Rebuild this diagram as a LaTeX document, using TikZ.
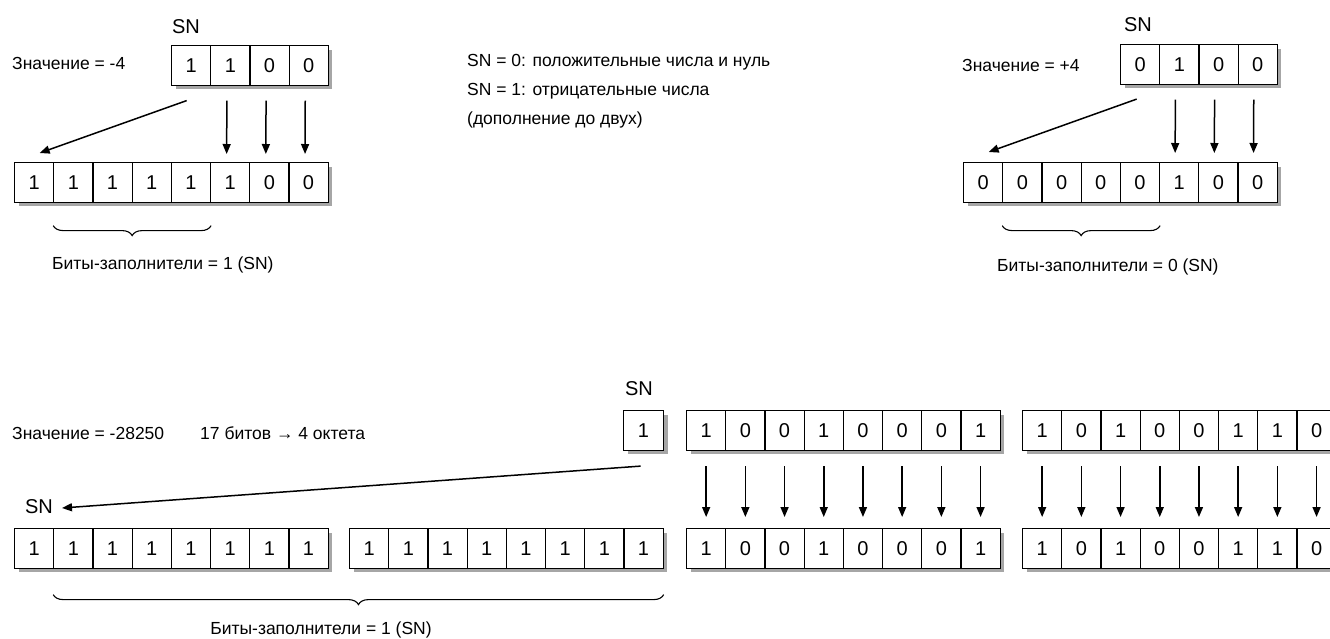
\documentclass[tikz,border=0pt]{standalone}
\usepackage{fontspec}
\setmainfont{Liberation Sans}
\usetikzlibrary{arrows.meta,shadows,decorations.pathreplacing}
\tikzset{
  cell/.style={draw, line width=1.1pt, fill=white, minimum width=39.2pt, minimum height=39.5pt,
    inner sep=0pt, anchor=north west, font=\fontsize{20}{24}\selectfont,
    drop shadow={shadow xshift=4pt, shadow yshift=-4pt, fill=gray!70, opacity=1}},
  lbl/.style={font=\fontsize{17.5}{20}\selectfont, inner sep=0pt},
  snlbl/.style={font=\fontsize{20}{24}\selectfont, inner sep=0pt},
  arr/.style={line width=1.5pt, -{Triangle[length=10pt,width=8pt]}},
  brc/.style={decorate, decoration={brace, amplitude=10pt, mirror}, line width=1.1pt},
}
\newcommand\bitrow[4]{%
  \foreach \b [count=\i] in {#4} {
    \node[cell] (#1\i) at ({#2+(\i-1)*39.2}, #3) {\b};
  }}
\begin{document}
\begin{tikzpicture}[x=1pt, y=-1pt]
\clip (0,0) rectangle (1330,638);
\fill[white] (0,0) rectangle (1330,638);

% ---------- top left: -4 ----------
\node[snlbl] (snA) at (186,27) {SN};
\node[lbl, anchor=west] (valA) at (12,63) {Значение = -4};
\bitrow{ta}{171}{45}{1,1,0,0}
\bitrow{ba}{14}{162}{1,1,1,1,1,1,0,0}
\draw[arr] ([xshift=-4.5pt,yshift=-15pt]ta1.south) -- ([xshift=5.5pt,yshift=9pt]ba1.north);
\foreach \i/\j in {2/6,3/7,4/8}
  \draw[arr] ([xshift=-3.5pt,yshift=-15pt]ta\i.south) -- ([xshift=-3.5pt,yshift=8pt]ba\j.north);
\draw[brc] ([yshift=-23pt]ba2.south west) -- ([yshift=-23pt]ba5.south east);
\node[lbl, anchor=west] (fillA) at (52,265) {Биты-заполнители = 1 (SN)};

% ---------- middle legend ----------
\node[lbl, anchor=west] (leg1) at (467,62) {SN = 0: положительные числа и нуль};
\node[lbl, anchor=west] (leg2) at (467,91) {SN = 1: отрицательные числа};
\node[lbl, anchor=west] (leg3) at (467,120) {(дополнение до двух)};

% ---------- top right: +4 ----------
\node[snlbl] (snB) at (1138,25) {SN};
\node[lbl, anchor=west] (valB) at (962,65) {Значение = +4};
\bitrow{tb}{1120}{44}{0,1,0,0}
\bitrow{bb}{963}{162}{0,0,0,0,0,1,0,0}
\draw[arr] ([xshift=-3.5pt,yshift=-14.5pt]tb1.south) -- ([xshift=5.5pt,yshift=10pt]bb1.north);
\foreach \i/\j in {2/6,3/7,4/8}
  \draw[arr] ([xshift=-4pt,yshift=-15pt]tb\i.south) -- ([xshift=-4pt,yshift=9pt]bb\j.north);
\draw[brc] ([yshift=-23pt]bb2.south west) -- ([yshift=-23pt]bb5.south east);
\node[lbl, anchor=west] (fillB) at (997,267) {Биты-заполнители = 0 (SN)};

% ---------- bottom: -28250 ----------
\node[lbl, anchor=west] (valC) at (12,433) {Значение = -28250};
\node[lbl, anchor=west] (bits) at (200,433) {17 битов → 4 октета};
\node[snlbl] (snC) at (639,389) {SN};
\node[cell, minimum width=40pt] (sn) at (623,410) {1};
\bitrow{oa}{686}{410}{1,0,0,1,0,0,0,1}
\bitrow{ob}{1022}{410}{1,0,1,0,0,1,1,0}
\bitrow{pa}{14}{528}{1,1,1,1,1,1,1,1}
\bitrow{pb}{349}{528}{1,1,1,1,1,1,1,1}
\bitrow{pc}{686}{528}{1,0,0,1,0,0,0,1}
\bitrow{pd}{1022}{528}{1,0,1,0,0,1,1,0}
\node[snlbl, anchor=east] (snD) at (53,507) {SN};
\draw[arr] ([xshift=-3pt,yshift=-15.5pt]sn.south) -- ([xshift=9pt,yshift=-1pt]snD.east);
\foreach \i in {1,...,8} {
  \draw[arr] ([yshift=-15.5pt]oa\i.south) -- ([yshift=11pt]pc\i.north);
  \draw[arr] ([yshift=-15.5pt]ob\i.south) -- ([yshift=11pt]pd\i.north);
}
\draw[brc] ([yshift=-26pt]pa2.south west) -- ([yshift=-26pt]pb8.south east);
\node[lbl] (fillC) at (321,630) {Биты-заполнители = 1 (SN)};
\end{tikzpicture}
\end{document}
